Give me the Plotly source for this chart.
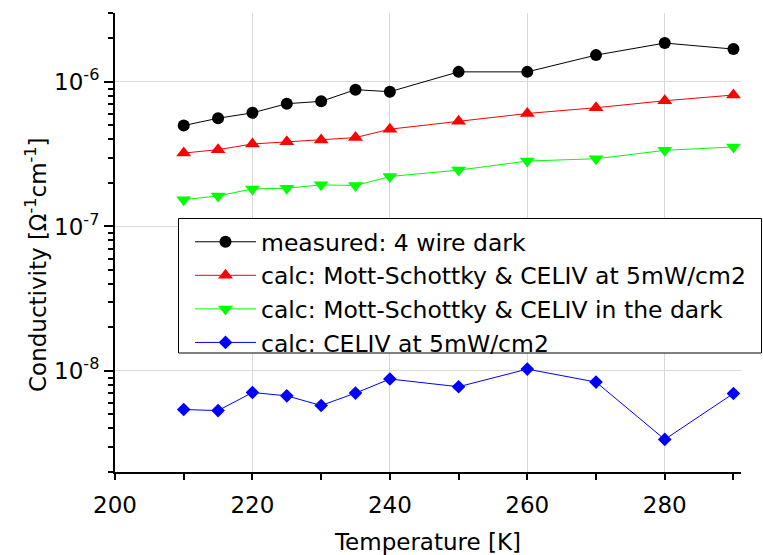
import plotly.graph_objects as go

temperature = [210, 215, 220, 225, 230, 235, 240, 250, 260, 270, 280, 290]

measured_4wire_dark = [4.99e-7, 5.61e-7, 6.11e-7, 7.07e-7, 7.34e-7, 8.84e-7, 8.56e-7,
                       1.174e-6, 1.174e-6, 1.533e-6, 1.858e-6, 1.688e-6]
ms_celiv_5mw = [3.22e-7, 3.40e-7, 3.72e-7, 3.86e-7, 3.97e-7, 4.12e-7, 4.71e-7,
                5.35e-7, 6.05e-7, 6.63e-7, 7.41e-7, 8.12e-7]
ms_celiv_dark = [1.533e-7, 1.626e-7, 1.819e-7, 1.838e-7, 1.94e-7, 1.919e-7, 2.217e-7,
                 2.454e-7, 2.835e-7, 2.942e-7, 3.363e-7, 3.548e-7]
celiv_5mw = [5.41e-9, 5.32e-9, 7.10e-9, 6.73e-9, 5.77e-9, 7.03e-9, 8.80e-9,
             7.78e-9, 1.03e-8, 8.38e-9, 3.36e-9, 6.99e-9]

series_names = ["measured: 4 wire dark",
                "calc: Mott-Schottky & CELIV at 5mW/cm2",
                "calc: Mott-Schottky & CELIV in the dark",
                "calc: CELIV at 5mW/cm2"]

x_tickvals = [200, 220, 240, 260, 280]
x_minor_vals = [210, 230, 250, 270, 290]
y_tickvals = [1e-8, 1e-7, 1e-6]
y_ticktext = ["10<sup>-8</sup>", "10<sup>-7</sup>", "10<sup>-6</sup>"]
y_minor_vals = [m * 10.0 ** e for e in (-9, -8, -7, -6) for m in range(2, 10)
                if 2e-9 <= m * 10.0 ** e <= 3e-6]

FONT = "DejaVu Sans, Arial, sans-serif"
FS = 23
FS_LEG = 23.5

# plot-area geometry in pixels (for converting legend frame to paper coords)
W, H = 763, 555
ML, MR, MT, MB = 115, 22, 13, 83
PW, PH = W - ML - MR, H - MT - MB


def px_to_paper_x(px):
    return (px - ML) / PW


def px_to_paper_y(py):
    return (H - MB - py) / PH


styles = [
    dict(color="black", symbol="circle", size=12),
    dict(color="#ff0000", symbol="triangle-up", size=13),
    dict(color="#00ff00", symbol="triangle-down", size=13),
    dict(color="#0000ff", symbol="diamond", size=10.5),
]
datasets = [measured_4wire_dark, ms_celiv_5mw, ms_celiv_dark, celiv_5mw]

fig = go.Figure()
for name, ys, st in zip(series_names, datasets, styles):
    fig.add_trace(go.Scatter(
        x=temperature, y=ys, name=name, mode="lines+markers",
        line=dict(color=st["color"], width=1),
        marker=dict(color=st["color"], symbol=st["symbol"], size=st["size"],
                    line=dict(width=0)),
    ))

# legend frame (white box with black border)
fig.add_shape(
    type="rect", xref="paper", yref="paper", layer="above",
    x0=px_to_paper_x(178.5), x1=px_to_paper_x(761.5),
    y0=px_to_paper_y(353), y1=px_to_paper_y(218.5),
    fillcolor="white", line=dict(color="black", width=1),
)

# y-axis title as annotation (placed slightly below the plot centre, as in the original)
fig.add_annotation(
    text="Conductivity [Ω<sup>-1</sup>cm<sup>-1</sup>]",
    xref="paper", yref="paper", x=px_to_paper_x(36), y=px_to_paper_y(265),
    xanchor="center", yanchor="middle", textangle=-90, showarrow=False,
    font=dict(family=FONT, size=FS, color="black"),
)

fig.update_layout(
    width=W, height=H,
    margin=dict(l=ML, r=MR, t=MT, b=MB, autoexpand=False),
    paper_bgcolor="white", plot_bgcolor="white",
    font=dict(family=FONT, size=FS, color="black"),
    showlegend=True,
    legend=dict(
        x=px_to_paper_x(190), y=px_to_paper_y(220), xanchor="left", yanchor="top",
        bgcolor="rgba(0,0,0,0)", borderwidth=0,
        font=dict(family=FONT, size=FS_LEG, color="black"),
        itemwidth=61, tracegroupgap=0,
    ),
)

fig.update_xaxes(
    range=[200, 291.1], automargin=False,
    tickvals=x_tickvals, ticktext=[str(v) for v in x_tickvals],
    ticks="outside", ticklen=6, tickwidth=1.5, tickcolor="black",
    ticklabelstandoff=5,
    showline=True, linecolor="black", linewidth=2,
    showgrid=True, gridcolor="#d8d8d8", gridwidth=1,
    zeroline=False, mirror=False,
    minor=dict(tickvals=x_minor_vals, ticks="outside", ticklen=6,
               tickwidth=1.5, tickcolor="black", showgrid=False),
    title=dict(text="Temperature [K]", standoff=20,
               font=dict(family=FONT, size=FS)),
    tickfont=dict(family=FONT, size=FS),
)

fig.update_yaxes(
    type="log", automargin=False,
    range=[-8.699, -5.523],
    tickvals=y_tickvals, ticktext=y_ticktext,
    ticks="outside", ticklen=9, tickwidth=1.5, tickcolor="black",
    showline=True, linecolor="black", linewidth=2,
    showgrid=True, gridcolor="#d8d8d8", gridwidth=1,
    zeroline=False, mirror=False,
    minor=dict(tickvals=y_minor_vals, ticks="outside", ticklen=5,
               tickwidth=1.5, tickcolor="black", showgrid=False),
    tickfont=dict(family=FONT, size=FS),
)

fig.write_html("out.html")
